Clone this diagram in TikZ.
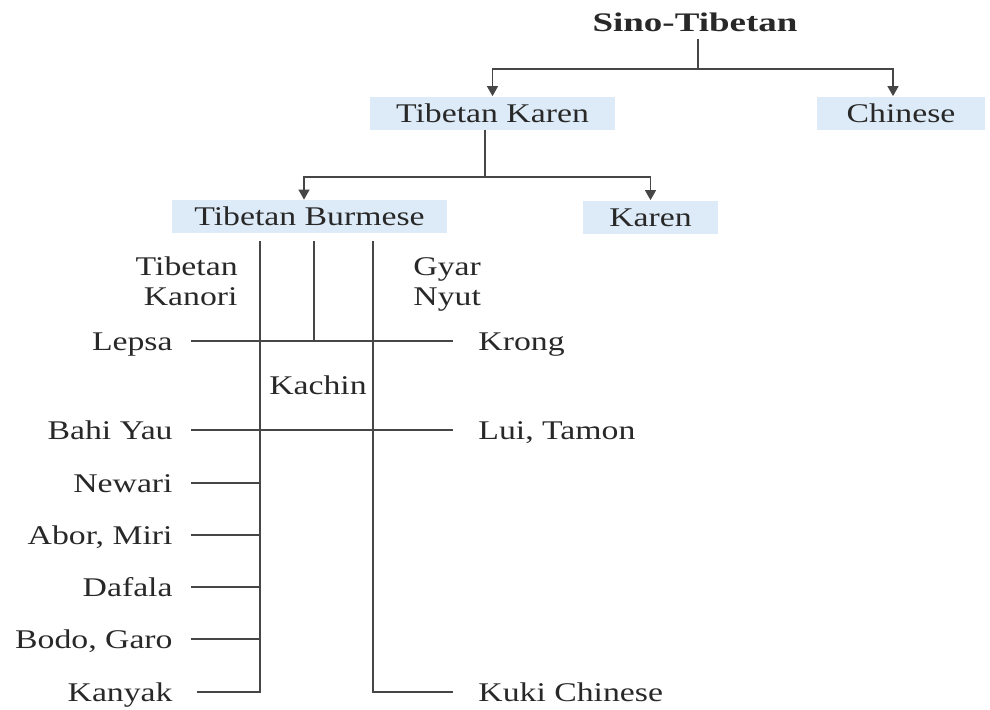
\documentclass[tikz,border=0pt]{standalone}
\usepackage{fontspec}
\setmainfont{Liberation Serif}[FakeStretch=1.25]
\newfontfamily\titlefont{Liberation Serif}[FakeStretch=1.38]
\usepackage{tikz}
\usetikzlibrary{arrows.meta, calc, positioning}
\usepackage{xcolor}
\definecolor{boxblue}{RGB}{221,235,248}
\definecolor{inkgray}{RGB}{40,40,40}
\definecolor{linegray}{RGB}{70,70,70}

\tikzset{
  note/.style={text=inkgray, font=\fontsize{13.5}{15}\selectfont, inner sep=0pt},
  lang/.style={note, text height=9pt, text depth=0pt},
  langbox/.style={lang, fill=boxblue, inner ysep=3.75pt},
  leftlang/.style={lang, anchor=east, inner xsep=9pt},
  rightlang/.style={lang, anchor=west, inner xsep=12.5pt},
  branch/.style={draw=linegray, line width=0.65pt},
  arr/.style={branch, -{Triangle[width=5.5pt,length=5pt]}}
}

\begin{document}
\begin{tikzpicture}[x=0.5pt, y=-0.5pt]
\useasboundingbox (0,0) rectangle (990,709);

% Top level
\node[lang, font=\fontsize{13.4}{15}\titlefont\bfseries] (st) at (695,22) {Sino-Tibetan};
\node[langbox, minimum width=122.5pt] (tk) at (492.5,113) {Tibetan Karen};
\node[langbox, minimum width=84pt] (ch) at (901,113) {Chinese};
\coordinate (j1) at (698,69);
\draw[branch, shorten <=4pt] (st.south -| j1) -- (j1);
\draw[arr] (j1) -| (tk.north);
\draw[arr] (j1) -| ([xshift=-4pt]ch.north);

% Second level
\node[langbox, minimum width=137.5pt] (tb) at (309.5,216.5) {Tibetan Burmese};
\node[langbox, minimum width=67.5pt] (kr) at (650.5,217) {Karen};
\coordinate (j2) at (485,177);
\draw[branch] (tk.south -| j2) -- (j2);
\draw[arr] (j2) -| ([xshift=-2.75pt]tb.north);
\draw[arr] (j2) -| (kr.north);

% Trunks below Tibetan Burmese
\coordinate (t1) at (260,241);
\coordinate (t2) at (314,241);
\coordinate (t3) at (373,241);
\node[note, align=right, anchor=base east] (tkan) at (238,305) {Tibetan\\Kanori};
\node[note, align=left, anchor=base west] (gyar) at (413,305) {Gyar\\Nyut};
\node[lang] (kachin) at (318,385) {Kachin};

% Crossing lines
\node[leftlang] (lepsa) at (191,341) {Lepsa};
\node[rightlang] (krong) at (453,341) {Krong};
\draw[branch] (lepsa.east) -- (krong.west);
\draw[branch] (t2) -- (t2 |- lepsa.east);
\node[leftlang] (bahi) at (191,430) {Bahi Yau};
\node[rightlang] (lui) at (453,430) {Lui, Tamon};
\draw[branch] (bahi.east) -- (lui.west);

% Left side
\node[leftlang] (newari) at (191,483) {Newari};
\node[leftlang] (abor) at (191,535) {Abor, Miri};
\node[leftlang] (dafala) at (191,587) {Dafala};
\node[leftlang] (bodo) at (191,639) {Bodo, Garo};
\node[leftlang] (kanyak) at (191,692) {Kanyak};
\draw[branch] (newari.east) -- (newari.east -| t1);
\draw[branch] (abor.east) -- (abor.east -| t1);
\draw[branch] (dafala.east) -- (dafala.east -| t1);
\draw[branch] (bodo.east) -- (bodo.east -| t1);
\draw[branch, shorten >=3pt] (t1) |- (kanyak.east);

% Right side
\node[rightlang] (kuki) at (453,692) {Kuki Chinese};
\draw[branch] (t3) |- (kuki.west);
\end{tikzpicture}
\end{document}
